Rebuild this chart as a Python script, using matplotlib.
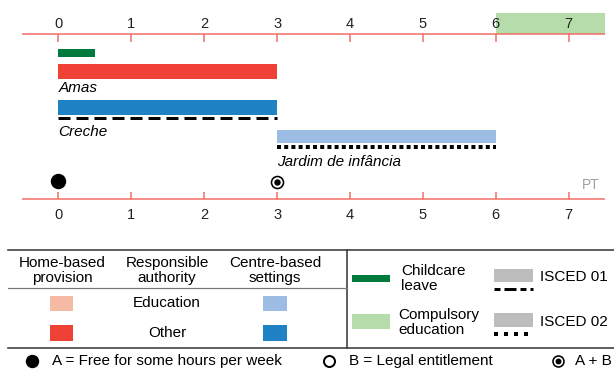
import matplotlib
matplotlib.use("Agg")
import matplotlib.pyplot as plt
from matplotlib.patches import Rectangle

plt.rcParams['font.family'] = ['Liberation Sans', 'DejaVu Sans']
plt.rcParams['lines.scale_dashes'] = False

# ---------------- data ----------------
years = [0, 1, 2, 3, 4, 5, 6, 7]
country = "PT"
childcare_leave = (0, 0.5)
compulsory_start = 6
amas = (0, 3)            # home-based, other authority
creche = (0, 3)          # centre-based, other authority, ISCED 01
jardim = (3, 6)          # centre-based, education authority, ISCED 02
setting_labels = ["Amas", "Creche", "Jardim de infância"]
marker_A = [0]           # free for some hours
marker_AB = [3]          # free hours + legal entitlement

# ---------------- colours ----------------
AXIS_RED = '#f36b63'
RED = '#ef4136'
SALMON = '#f6b9a3'
BLUE = '#1f82c4'
LBLUE = '#9dbce3'
DGREEN = '#007a3d'
LGREEN = '#b5dcaa'
GREY = '#bdbdbd'

PX = 72 / 100  # points per pixel

fig = plt.figure(figsize=(6.14, 3.70), dpi=100)
ax = fig.add_axes([22 / 614, 0, 583 / 614, 1])
ax.set_xlim(-0.5, 7.5)
ax.set_ylim(370, 0)
ax.axis('off')

# compulsory education shading
ax.barh(23.5, 7.5 - compulsory_start, left=compulsory_start, height=21, color=LGREEN, lw=0)

# top axis
ax.axhline(34, color=AXIS_RED, lw=1.5 * PX)
ax.vlines(years, 34, 42, color=AXIS_RED, lw=1.5 * PX)
for y in years:
    ax.text(y, 24, str(y), ha='center', va='center', fontsize=10.5, color='#222')

# bottom axis
ax.axhline(199, color=AXIS_RED, lw=1.5 * PX)
ax.vlines(years, 192, 199, color=AXIS_RED, lw=1.5 * PX)
for y in years:
    ax.text(y, 215, str(y), ha='center', va='center', fontsize=10.5, color='#222')

# bars
ax.barh(53, childcare_leave[1] - childcare_leave[0], left=childcare_leave[0], height=8, color=DGREEN, lw=0)
ax.barh(71.5, amas[1] - amas[0], left=amas[0], height=15, color=RED, lw=0)
ax.text(amas[0], 88.5, setting_labels[0], style='italic', fontsize=11, va='center', ha='left')

ax.barh(107.5, creche[1] - creche[0], left=creche[0], height=15, color=BLUE, lw=0)
ax.plot([creche[0], creche[1]], [117.5, 117.5], color='black', lw=3 * PX,
        dashes=(12 * PX, 6 * PX), solid_capstyle='butt', dash_capstyle='butt')
ax.text(creche[0], 132, setting_labels[1], style='italic', fontsize=11, va='center', ha='left')

ax.barh(136.5, jardim[1] - jardim[0], left=jardim[0], height=13, color=LBLUE, lw=0)
ax.plot([jardim[0], jardim[1]], [146.5, 146.5], color='black', lw=4 * PX,
        dashes=(4 * PX, 3.2 * PX), dash_capstyle='butt')
ax.text(jardim[0], 162, setting_labels[2], style='italic', fontsize=11, va='center', ha='left')

# markers
ax.plot(marker_A, [181] * len(marker_A), 'o', color='black', ms=14 * PX)
ax.plot(marker_AB, [182] * len(marker_AB), 'o', mfc='white', mec='black', mew=1.6 * PX, ms=12 * PX)
ax.plot(marker_AB, [182] * len(marker_AB), 'o', color='black', ms=5 * PX)

ax.text(7.3, 185, country, ha='center', va='center', fontsize=10, color='#a0a0a0')

# ---------------- legend (pixel coordinates) ----------------
lg = fig.add_axes([0, 0, 1, 1])
lg.set_xlim(0, 614)
lg.set_ylim(370, 0)
lg.axis('off')
lg.set_zorder(-1)

LC = '#3a3a3a'
lg.plot([8, 614], [250, 250], color=LC, lw=1.6 * PX)
lg.plot([8, 614], [348, 348], color=LC, lw=1.6 * PX)
lg.plot([347, 347], [250, 348], color=LC, lw=1.6 * PX)
lg.plot([8, 347], [288, 288], color='#777', lw=1.2 * PX)

FS = 11
lg.text(62, 270.5, "Home-based\nprovision", ha='center', va='center', fontsize=FS, linespacing=1.05)
lg.text(167, 270.5, "Responsible\nauthority", ha='center', va='center', fontsize=FS, linespacing=1.05)
lg.text(275, 270.5, "Centre-based\nsettings", ha='center', va='center', fontsize=FS, linespacing=1.05)

lg.add_patch(Rectangle((50, 296), 23, 15, color=SALMON, lw=0))
lg.add_patch(Rectangle((50, 325), 23, 16, color=RED, lw=0))
lg.add_patch(Rectangle((263, 296), 24, 15, color=LBLUE, lw=0))
lg.add_patch(Rectangle((263, 325), 24, 16, color=BLUE, lw=0))
lg.text(167, 303, "Education", ha='center', va='center', fontsize=FS)
lg.text(167, 333, "Other", ha='center', va='center', fontsize=FS)

lg.add_patch(Rectangle((352, 275), 38, 7, color=DGREEN, lw=0))
lg.text(401, 278.5, "Childcare\nleave", ha='left', va='center', fontsize=FS, linespacing=1.15)
lg.add_patch(Rectangle((352, 314), 38, 15, color=LGREEN, lw=0))
lg.text(398, 322.5, "Compulsory\neducation", ha='left', va='center', fontsize=FS, linespacing=1.15)

lg.add_patch(Rectangle((494, 269), 39, 13, color=GREY, lw=0))
lg.plot([494, 533], [288.5, 288.5], color='black', lw=3 * PX, dashes=(6 * PX, 4 * PX, 12 * PX, 4 * PX),
        dash_capstyle='butt')
lg.text(540, 277, "ISCED 01", ha='left', va='center', fontsize=FS)
lg.add_patch(Rectangle((494, 313), 39, 14, color=GREY, lw=0))
lg.plot([494, 533], [334, 334], color='black', lw=4 * PX, dashes=(4 * PX, 6 * PX), dash_capstyle='butt')
lg.text(540, 322, "ISCED 02", ha='left', va='center', fontsize=FS)

# bottom row
lg.plot([32], [361], 'o', color='black', ms=12 * PX)
lg.text(52, 361, "A = Free for some hours per week", ha='left', va='center', fontsize=FS)
lg.plot([329], [361], 'o', mfc='white', mec='black', mew=2 * PX, ms=11 * PX)
lg.text(349, 361, "B = Legal entitlement", ha='left', va='center', fontsize=FS)
lg.plot([558], [361], 'o', mfc='white', mec='black', mew=1.6 * PX, ms=11 * PX)
lg.plot([558], [361], 'o', color='black', ms=4.5 * PX)
lg.text(612, 361, "A + B", ha='right', va='center', fontsize=FS)

fig.savefig("out.png", dpi=100)
